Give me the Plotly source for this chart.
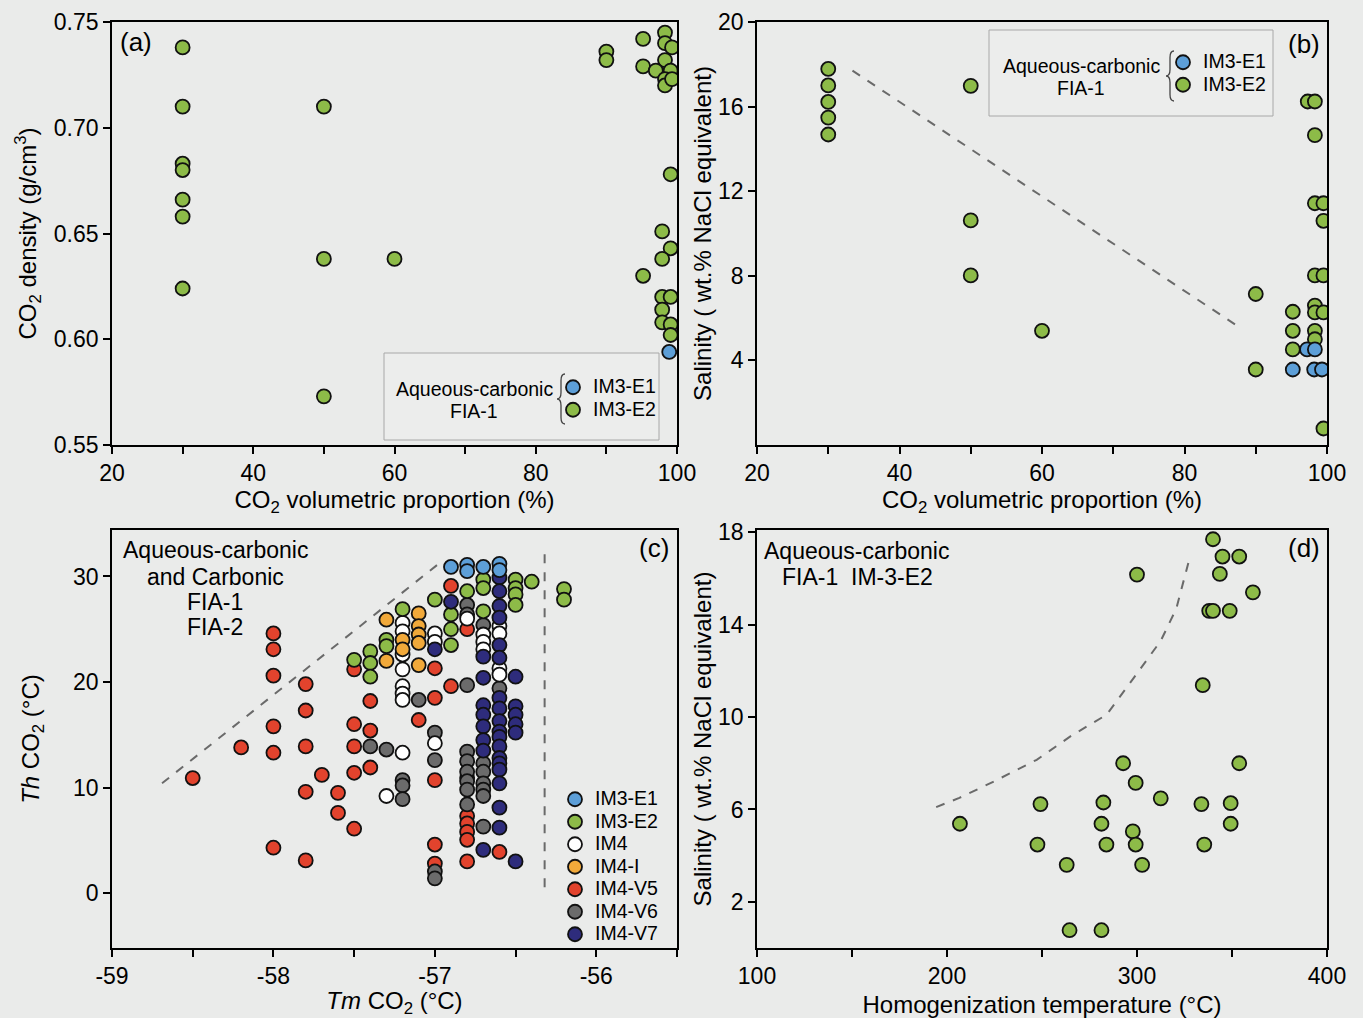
import plotly.graph_objects as go

W, H = 1363, 1018
FONT = "Liberation Sans, Arial, Helvetica, sans-serif"
BG = "#eaebea"

# marker fill colours for each inclusion group
C_E1 = "#5d9fd8"
C_E2 = "#8dbb48"
C_IM4 = "#ffffff"
C_IM4I = "#f1a93a"
C_V5 = "#e2432d"
C_V6 = "#6b6b6b"
C_V7 = "#2e2c7c"

# ---------------- (a) CO2 density vs CO2 volumetric proportion ----------------
a_e1_x = [98.9]
a_e1_y = [0.594]
a_e2_x = [30, 30, 30, 30, 30, 30, 30,
          50, 50, 50, 60, 90, 90,
          95.2, 95.2, 95.2,
          98.3, 98.3, 99.3, 98.3, 97.0, 99.1, 98.3, 98.3, 99.3,
          99.1, 97.9, 99.1, 97.9,
          97.9, 99.1, 97.9, 97.9, 99.1, 99.1]
a_e2_y = [0.738, 0.710, 0.683, 0.680, 0.666, 0.658, 0.624,
          0.710, 0.638, 0.573, 0.638, 0.736, 0.732,
          0.742, 0.729, 0.630,
          0.745, 0.740, 0.738, 0.732, 0.727, 0.727, 0.723, 0.720, 0.723,
          0.678, 0.651, 0.643, 0.638,
          0.620, 0.620, 0.614, 0.608, 0.607, 0.602]

# ---------------- (b) salinity vs CO2 volumetric proportion ----------------
b_e1_x = [95.2, 97.2, 98.3, 98.2, 99.3]
b_e1_y = [3.57, 4.52, 4.52, 3.57, 3.57]
b_e2_x = [30, 30, 30, 30, 30, 50, 50, 50, 60, 90, 90,
          95.2, 95.2, 95.2, 97.3, 98.3, 98.3, 98.3, 99.5, 99.5,
          98.3, 99.5, 98.3, 98.3, 99.5, 98.3, 98.3, 99.5]
b_e2_y = [17.78, 17.0, 16.22, 15.48, 14.68, 16.98, 10.62, 8.02, 5.40, 7.14, 3.57,
          6.30, 5.40, 4.52, 16.24, 16.24, 14.65, 11.43, 11.43, 10.6,
          8.02, 8.02, 6.59, 6.27, 6.27, 5.40, 5.0, 0.78]
trend_b_x = [33.4, 87.1]
trend_b_y = [17.7, 5.7]

# ---------------- (c) Th CO2 vs Tm CO2 ----------------
c_tickvals = [-59, -58, -57, -56]
c_ticktext = ["-59", "-58", "-57", "-56"]

c_e1_x = [-56.9, -56.8, -56.8, -56.7, -56.6, -56.6]
c_e1_y = [30.9, 31.1, 30.5, 30.9, 31.2, 30.6]

c_e2_x = [-57.5, -57.4, -57.4, -57.4, -57.3, -57.3, -57.2, -57.0, -56.9, -56.9, -56.9,
          -56.8, -56.7, -56.7, -56.7, -56.5, -56.5, -56.5, -56.5, -56.4, -56.2, -56.2]
c_e2_y = [22.1, 22.9, 21.8, 20.5, 24.0, 23.4, 26.9, 27.8, 26.4, 25.0, 23.5,
          28.6, 29.7, 28.9, 26.7, 29.7, 28.9, 28.3, 27.3, 29.5, 28.8, 27.8]

c_im4_x = [-57.3, -57.2, -57.2, -57.2, -57.2, -57.2, -57.2, -57.2, -57.2, -57.0, -57.0,
           -57.0, -56.8, -56.7, -56.7, -56.7, -56.6, -56.6, -56.6, -56.6]
c_im4_y = [9.2, 25.6, 24.8, 22.6, 21.2, 19.6, 18.9, 18.3, 13.3, 24.6, 23.8,
           14.2, 26.0, 24.5, 23.8, 23.1, 25.3, 24.6, 21.3, 20.7]

c_im4i_x = [-57.3, -57.3, -57.2, -57.2, -57.1, -57.1, -57.1, -57.1, -57.1]
c_im4i_y = [25.9, 22.0, 24.0, 23.1, 26.5, 25.3, 24.5, 23.7, 21.6]

c_v5_x = [-58.5, -58.2, -58.0, -58.0, -58.0, -58.0, -58.0, -58.0,
          -57.8, -57.8, -57.8, -57.8, -57.8, -57.7, -57.6, -57.6,
          -57.5, -57.5, -57.5, -57.5, -57.5, -57.4, -57.4, -57.4,
          -57.1, -57.0, -57.0, -57.0, -57.0, -57.0, -56.9, -56.9,
          -56.8, -56.8, -56.8, -56.8, -56.8, -56.8, -56.8, -56.6]
c_v5_y = [10.9, 13.8, 24.6, 23.1, 20.6, 15.8, 13.3, 4.3,
          19.8, 17.3, 13.9, 9.6, 3.1, 11.2, 9.5, 7.6,
          21.2, 16.0, 13.9, 11.4, 6.1, 18.2, 15.4, 11.9,
          16.4, 21.3, 18.5, 10.7, 4.6, 2.8, 29.1, 19.6,
          25.0, 10.9, 7.3, 6.6, 5.8, 5.05, 3.0, 3.9]

c_v6_x = [-57.4, -57.3, -57.2, -57.2, -57.2, -57.1, -57.0, -57.0, -57.0, -57.0,
          -56.8, -56.8, -56.8, -56.8, -56.8, -56.8, -56.8, -56.8, -56.8,
          -56.7, -56.7, -56.7, -56.7, -56.7, -56.7, -56.7, -56.6]
c_v6_y = [13.9, 13.6, 10.7, 10.2, 8.9, 18.3, 15.2, 12.6, 2.05, 1.4,
          27.3, 26.4, 19.7, 13.4, 12.5, 11.5, 10.6, 9.8, 8.4,
          25.4, 12.3, 11.5, 10.4, 9.8, 9.2, 6.3, 19.4]

c_v7_x = [-57.0, -56.9, -56.7, -56.7, -56.7, -56.7, -56.7, -56.7, -56.7, -56.7,
          -56.6, -56.6, -56.6, -56.6, -56.6, -56.6, -56.6, -56.6, -56.6, -56.6,
          -56.6, -56.6, -56.6, -56.6, -56.6, -56.6, -56.6, -56.6,
          -56.5, -56.5, -56.5, -56.5, -56.5, -56.5]
c_v7_y = [23.1, 27.6, 22.4, 20.4, 17.8, 16.9, 15.8, 14.5, 13.5, 4.1,
          29.9, 28.6, 27.2, 26.1, 23.5, 22.3, 18.5, 17.5, 16.3, 15.3,
          14.8, 13.9, 12.8, 12.3, 11.7, 10.4, 8.1, 6.2,
          20.5, 17.7, 16.9, 16.0, 15.2, 3.0]

trend_c_x = [-58.69, -56.96]
trend_c_y = [10.4, 31.4]
limit_c_x = [-56.32, -56.32]
limit_c_y = [32.1, 0.3]

# ---------------- (d) salinity vs homogenization temperature ----------------
d_x = [206.8, 249.2, 247.6, 263.0, 264.5, 281.3, 282.3, 281.3, 283.9, 292.7,
       299.3, 297.8, 299.3, 302.7, 312.5, 333.9, 335.4, 349.3, 349.3, 353.8,
       334.6, 338.0, 340.0, 348.8, 361.0, 343.6, 345.0, 353.8, 340.0, 300.0]
d_y = [5.38, 6.23, 4.48, 3.6, 0.77, 0.77, 6.3, 5.38, 4.48, 8.0,
       7.15, 5.05, 4.48, 3.6, 6.48, 6.23, 4.48, 6.27, 5.38, 8.0,
       11.38, 14.6, 14.6, 14.6, 15.4, 16.2, 16.95, 16.95, 17.7, 16.17]
trend_d_x = [194.3, 206.5, 224.9, 247.2, 265.6, 284.0, 298.3, 312.5, 320.7, 324.8, 327.9]
trend_d_y = [6.1, 6.5, 7.22, 8.15, 9.2, 10.1, 11.7, 13.3, 14.7, 16.0, 16.95]


def px(x):
    return x / W


def py(y):
    return 1 - y / H


def lbl(text, size=19.5):
    return f'<span style="font-size:{size}px">{text}</span>'


MK = 14


def dots(x, y, color, name, xa, ya, legend, show=True, rank=None):
    return go.Scatter(
        x=x, y=y, mode="markers", name=lbl(name),
        marker=dict(size=MK, color=color, line=dict(color="#111111", width=1.8)),
        xaxis=xa, yaxis=ya, legend=legend, showlegend=show,
        legendrank=rank if rank is not None else 1000,
    )


def dashed(x, y, xa, ya):
    return go.Scatter(x=x, y=y, mode="lines", xaxis=xa, yaxis=ya, showlegend=False,
                      line=dict(color="#6a6a6a", width=2, dash="dash"), hoverinfo="skip")


fig = go.Figure()

# (a)
fig.add_trace(dots(a_e2_x, a_e2_y, C_E2, "IM3-E2", "x", "y", "legend", rank=2))
fig.add_trace(dots(a_e1_x, a_e1_y, C_E1, "IM3-E1", "x", "y", "legend", rank=1))
# (b)
fig.add_trace(dashed(trend_b_x, trend_b_y, "x2", "y2"))
fig.add_trace(dots(b_e2_x, b_e2_y, C_E2, "IM3-E2", "x2", "y2", "legend2", rank=2))
fig.add_trace(dots(b_e1_x, b_e1_y, C_E1, "IM3-E1", "x2", "y2", "legend2", rank=1))
# (c)
fig.add_trace(dashed(trend_c_x, trend_c_y, "x3", "y3"))
fig.add_trace(dashed(limit_c_x, limit_c_y, "x3", "y3"))
fig.add_trace(dots(c_v5_x, c_v5_y, C_V5, "IM4-V5", "x3", "y3", "legend3", rank=5))
fig.add_trace(dots(c_v6_x, c_v6_y, C_V6, "IM4-V6", "x3", "y3", "legend3", rank=6))
fig.add_trace(dots(c_im4_x, c_im4_y, C_IM4, "IM4", "x3", "y3", "legend3", rank=3))
fig.add_trace(dots(c_im4i_x, c_im4i_y, C_IM4I, "IM4-I", "x3", "y3", "legend3", rank=4))
fig.add_trace(dots(c_e2_x, c_e2_y, C_E2, "IM3-E2", "x3", "y3", "legend3", rank=2))
fig.add_trace(dots(c_v7_x, c_v7_y, C_V7, "IM4-V7", "x3", "y3", "legend3", rank=7))
fig.add_trace(dots(c_e1_x, c_e1_y, C_E1, "IM3-E1", "x3", "y3", "legend3", rank=1))
# (d)
fig.add_trace(dashed(trend_d_x, trend_d_y, "x4", "y4"))
fig.add_trace(dots(d_x, d_y, C_E2, "IM3-E2", "x4", "y4", "legend", show=False))

TICKFONT = dict(family=FONT, size=23, color="black")
TITLEFONT = dict(family=FONT, size=24, color="black")


def ax(domain, rng, anchor, title, standoff=12, **kw):
    d = dict(domain=domain, range=rng, anchor=anchor, showline=True, linecolor="black",
             linewidth=1.6, mirror=True, ticks="outside", ticklen=7, tickwidth=1.5,
             tickcolor="black", showgrid=False, zeroline=False, tickfont=TICKFONT,
             automargin=False,
             title=dict(text=title, font=TITLEFONT, standoff=standoff))
    d.update(kw)
    return d


XL = [px(112), px(677)]
XR = [px(757), px(1327)]
YT = [py(445), py(22)]
YB = [py(948), py(530)]
minor10 = dict(dtick=10, ticks="outside", ticklen=7, tickwidth=1.5, tickcolor="black", showgrid=False)

VOL = "CO<sub>2</sub> volumetric proportion (%)"
SAL = "Salinity ( wt.% NaCl equivalent)"

fig.update_layout(
    template="none",
    width=W, height=H, margin=dict(l=0, r=0, t=0, b=0, pad=0), autosize=False,
    paper_bgcolor=BG, plot_bgcolor=BG, font=dict(family=FONT, color="black"),
    xaxis=ax(XL, [20, 100], "y", VOL, standoff=4, tickvals=[20, 40, 60, 80, 100], minor=minor10),
    yaxis=ax(YT, [0.55, 0.75], "x", "CO<sub>2</sub> density (g/cm<sup>3</sup>)", standoff=10,
             tickvals=[0.55, 0.60, 0.65, 0.70, 0.75], tickformat=".2f"),
    xaxis2=ax(XR, [20, 100], "y2", VOL, standoff=4, tickvals=[20, 40, 60, 80, 100], minor=minor10),
    yaxis2=ax(YT, [0, 20], "x2", SAL, standoff=0, tickvals=[4, 8, 12, 16, 20]),
    xaxis3=ax(XL, [-59, -55.5], "y3", "<i>Tm</i> CO<sub>2</sub> (°C)", standoff=12,
              tickvals=c_tickvals, ticktext=c_ticktext,
              minor=dict(dtick=0.5, ticks="outside", ticklen=7, tickwidth=1.5, tickcolor="black", showgrid=False)),
    yaxis3=ax(YB, [-5.2, 34.4], "x3", "<i>Th</i> CO<sub>2</sub> (°C)", standoff=27,
              tickvals=[0, 10, 20, 30]),
    xaxis4=ax(XR, [100, 400], "y4", "Homogenization temperature (°C)", standoff=8,
              tickvals=[100, 200, 300, 400],
              minor=dict(dtick=50, ticks="outside", ticklen=7, tickwidth=1.5, tickcolor="black", showgrid=False)),
    yaxis4=ax(YB, [0, 18.1], "x4", SAL, standoff=0, tickvals=[2, 6, 10, 14, 18]),
    legend=dict(x=px(553), y=py(371), xanchor="left", yanchor="top", bgcolor="rgba(0,0,0,0)",
                font=dict(family=FONT, size=15, color="black"), itemwidth=30, tracegroupgap=0),
    legend2=dict(x=px(1163), y=py(46), xanchor="left", yanchor="top", bgcolor="rgba(0,0,0,0)",
                 font=dict(family=FONT, size=15, color="black"), itemwidth=30, tracegroupgap=0),
    legend3=dict(x=px(555), y=py(783), xanchor="left", yanchor="top", bgcolor="rgba(0,0,0,0)",
                 font=dict(family=FONT, size=15, color="black"), itemwidth=30, tracegroupgap=0),
)

# legend frames for (a) and (b)
for x0, x1, y0, y1 in [(384, 659, 353, 440), (989, 1273, 30, 116)]:
    fig.add_shape(type="rect", xref="paper", yref="paper", x0=px(x0), x1=px(x1),
                  y0=py(y1), y1=py(y0), line=dict(color="#a8a8a8", width=1),
                  fillcolor="rgba(255,255,255,0.12)", layer="below")


def brace(x, top, bottom, depth=5):
    """Thin curly brace opening to the right, in canvas pixels."""
    mid = (top + bottom) / 2
    pts = [
        f"M {px(x + depth)},{py(top)}",
        f"Q {px(x)},{py(top)} {px(x)},{py(top + depth * 1.6)}",
        f"L {px(x)},{py(mid - depth * 1.6)}",
        f"Q {px(x)},{py(mid)} {px(x - depth)},{py(mid)}",
        f"Q {px(x)},{py(mid)} {px(x)},{py(mid + depth * 1.6)}",
        f"L {px(x)},{py(bottom - depth * 1.6)}",
        f"Q {px(x)},{py(bottom)} {px(x + depth)},{py(bottom)}",
    ]
    fig.add_shape(type="path", xref="paper", yref="paper", path=" ".join(pts),
                  line=dict(color="#444444", width=1.3))


brace(561, 374, 424, depth=4)
brace(1170, 51, 101, depth=4)


def note(text, x, y, size=23, xanchor="center"):
    fig.add_annotation(text=text, x=px(x), y=py(y), xref="paper", yref="paper",
                       xanchor=xanchor, yanchor="middle", showarrow=False,
                       font=dict(family=FONT, size=size, color="black"))


# legend group captions
note("Aqueous-carbonic", 474, 389, size=19.5)
note("FIA-1", 474, 411, size=19.5)
note("Aqueous-carbonic", 1081, 66, size=19.5)
note("FIA-1", 1081, 88, size=19.5)

# panel captions
note("Aqueous-carbonic", 215, 550)
note("and Carbonic", 215, 577)
note("FIA-1", 215, 602)
note("FIA-2", 215, 627)
note("Aqueous-carbonic", 856, 551)
note("FIA-1  IM-3-E2", 857, 577)

# panel letters
note("(a)", 118, 42, size=26, xanchor="left")
note("(b)", 1322, 44, size=26, xanchor="right")
note("(c)", 671, 548, size=26, xanchor="right")
note("(d)", 1322, 548, size=26, xanchor="right")

fig.write_html("out.html")
